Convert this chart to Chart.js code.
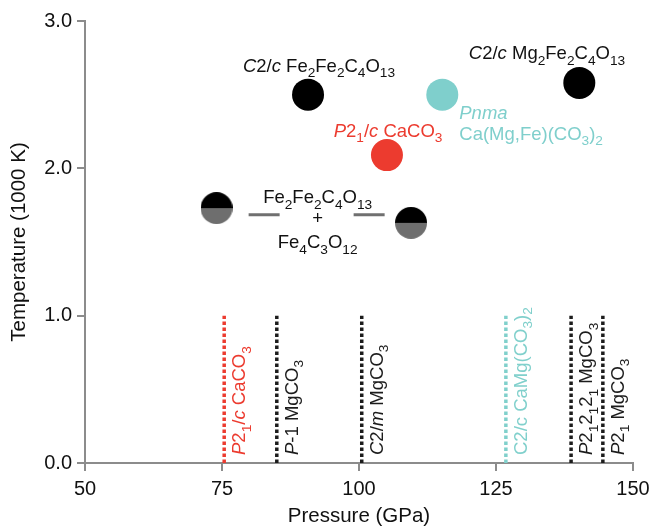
<!DOCTYPE html>
<html>
<head>
<meta charset="utf-8">
<script src="https://cdn.jsdelivr.net/npm/chart.js@4/dist/chart.umd.min.js"></script>
<style>
  html, body { margin: 0; padding: 0; background: #fff; }
</style>
</head>
<body>
<canvas id="chart" width="650" height="529"></canvas>
<script>
// transition pressures (GPa), each drawn as a dashed line from 0 to 1000 K
const transitionP = [75.4, 85.0, 100.5, 126.8, 138.7, 144.5];
const transitionT = [0, 1.0];
const transitionLabels = [
    '<i>P</i>2<sub>1</sub>/<i>c</i> CaCO<sub>3</sub>',
    '<i>P</i>-1 MgCO<sub>3</sub>',
    '<i>C</i>2/<i>m</i> MgCO<sub>3</sub>',
    'C2/c CaMg(CO<sub>3</sub>)<sub>2</sub>',
    '<i>P</i>2<sub>1</sub>2<sub>1</sub>2<sub>1</sub> MgCO<sub>3</sub>',
    '<i>P</i>2<sub>1</sub> MgCO<sub>3</sub>'
];
const transitionColors = ['#ec3b2f', '#1c1c1c', '#1c1c1c', '#80d0cc', '#1c1c1c', '#1c1c1c'];

// stable high-T phases
const phaseP = [90.7, 140.2, 105.1, 115.2];
const phaseT = [2.50, 2.58, 2.09, 2.50];
const phaseColors = ['#000000', '#000000', '#ec3b2f', '#7fcfcc'];

// decomposition points
const decompP = [74.0, 109.5];
const decompT = [1.73, 1.63];

const xTicks = [50, 75, 100, 125, 150];
const yTicks = [0, 1, 2, 3];

const FONT = "'Liberation Sans', Arial, Helvetica, sans-serif";
const AXIS_GREY = '#8c8c8c';
const LABEL_SIZE = 18.5;

// text annotations placed in data units
const notes = [
    { x: 92.7, y: 2.70, text: '<i>C</i>2/<i>c</i> Fe<sub>2</sub>Fe<sub>2</sub>C<sub>4</sub>O<sub>13</sub>', color: '#111', align: 'center' },
    { x: 134.3, y: 2.785, text: '<i>C</i>2/<i>c</i> Mg<sub>2</sub>Fe<sub>2</sub>C<sub>4</sub>O<sub>13</sub>', color: '#111', align: 'center' },
    { x: 105.3, y: 2.26, text: '<i>P</i>2<sub>1</sub>/<i>c</i> CaCO<sub>3</sub>', color: '#ec3b2f', align: 'center' },
    { x: 118.3, y: 2.38, text: '<i>Pnma</i>', color: '#7fcfcc', align: 'left' },
    { x: 118.3, y: 2.24, text: 'Ca(Mg,Fe)(CO<sub>3</sub>)<sub>2</sub>', color: '#7fcfcc', align: 'left' },
    { x: 92.45, y: 1.808, text: 'Fe<sub>2</sub>Fe<sub>2</sub>C<sub>4</sub>O<sub>13</sub>', color: '#111', align: 'center' },
    { x: 92.45, y: 1.665, text: '+', color: '#111', align: 'center', link: true },
    { x: 92.45, y: 1.502, text: 'Fe<sub>4</sub>C<sub>3</sub>O<sub>12</sub>', color: '#111', align: 'center' }
];

function parseRich(s) {
    const runs = [];
    const re = /<(i|sub)>(.*?)<\/\1>|([^<]+)/g;
    let m;
    while ((m = re.exec(s))) {
        if (m[3]) runs.push({ t: m[3] });
        else runs.push({ t: m[2], i: m[1] === 'i', sub: m[1] === 'sub' });
    }
    return runs;
}

function runFont(r, size) {
    const sz = r.sub ? size * 0.74 : size;
    return (r.i ? 'italic ' : '') + sz + 'px ' + FONT;
}

// draws a line of text with italics and subscripts, y is the baseline
function drawRich(ctx, s, x, y, size, color, align) {
    const runs = parseRich(s);
    let w = 0;
    runs.forEach(r => {
        ctx.font = runFont(r, size);
        r.w = ctx.measureText(r.t).width;
        w += r.w;
    });
    let cx = align === 'center' ? x - w / 2 : (align === 'right' ? x - w : x);
    ctx.fillStyle = color;
    ctx.textAlign = 'left';
    ctx.textBaseline = 'alphabetic';
    runs.forEach(r => {
        ctx.font = runFont(r, size);
        ctx.fillText(r.t, cx, y + (r.sub ? size * 0.3 : 0));
        cx += r.w;
    });
    return w;
}

function halfDot(r) {
    const c = document.createElement('canvas');
    c.width = c.height = 2 * r;
    const g = c.getContext('2d');
    g.beginPath();
    g.arc(r, r, r, Math.PI, 0);
    g.closePath();
    g.fillStyle = '#000';
    g.fill();
    g.beginPath();
    g.arc(r, r, r, 0, Math.PI);
    g.closePath();
    g.fillStyle = '#6e6e6e';
    g.fill();
    return c;
}

const labelPlugin = {
    id: 'labels',
    afterDatasetsDraw(chart) {
        const { ctx, scales: { x, y } } = chart;
        const size = LABEL_SIZE;
        ctx.save();

        // rotated labels beside the transition lines
        transitionP.forEach((p, i) => {
            ctx.save();
            ctx.translate(x.getPixelForValue(p) + 21, y.getPixelForValue(0) - 8);
            ctx.rotate(-Math.PI / 2);
            drawRich(ctx, transitionLabels[i], 0, 0, size, transitionColors[i], 'left');
            ctx.restore();
        });

        notes.forEach(n => {
            const px = x.getPixelForValue(n.x);
            const py = y.getPixelForValue(n.y);
            drawRich(ctx, n.text, px, py + size * 0.36, size, n.color, n.align);
            if (n.link) {
                ctx.strokeStyle = '#707070';
                ctx.lineWidth = 3;
                ctx.beginPath();
                ctx.moveTo(px - 69, py - 3); ctx.lineTo(px - 38, py - 3);
                ctx.moveTo(px + 36, py - 3); ctx.lineTo(px + 67, py - 3);
                ctx.stroke();
            }
        });
        ctx.restore();
    }
};

const datasets = transitionP.map((p, i) => ({
    type: 'line',
    data: transitionT.map(t => ({ x: p, y: t })),
    borderColor: transitionColors[i],
    borderWidth: 3.5,
    borderDash: [3.5, 2.5],
    pointRadius: 0,
    fill: false
}));

datasets.push({
    type: 'scatter',
    data: phaseP.map((p, i) => ({ x: p, y: phaseT[i] })),
    backgroundColor: phaseColors,
    borderWidth: 0,
    pointRadius: 16
});

datasets.push({
    type: 'scatter',
    data: decompP.map((p, i) => ({ x: p, y: decompT[i] })),
    pointStyle: halfDot(16),
    pointRadius: 16
});

const axisCommon = {
    grid: { display: true, drawOnChartArea: false, drawTicks: true, tickLength: 8, color: AXIS_GREY, lineWidth: 2 },
    border: { display: true, color: AXIS_GREY, width: 2 }
};

new Chart(document.getElementById('chart'), {
    data: { datasets },
    options: {
        responsive: false,
        animation: false,
        layout: { padding: { top: 21, right: 17, bottom: 0, left: 0 } },
        plugins: { legend: { display: false }, tooltip: { enabled: false } },
        scales: {
            x: {
                type: 'linear',
                min: 50,
                max: 150,
                ...axisCommon,
                afterBuildTicks: s => { s.ticks = xTicks.map(v => ({ value: v })); },
                afterFit: s => { s.height = 66; s.paddingLeft = 0; s.paddingRight = 0; },
                ticks: { color: '#111', padding: 6, font: { family: FONT, size: 20 } },
                title: { display: true, text: 'Pressure (GPa)', color: '#111', padding: { top: 0, bottom: 0 }, font: { family: FONT, size: 20.5 } }
            },
            y: {
                type: 'linear',
                min: 0,
                max: 3,
                ...axisCommon,
                afterBuildTicks: s => { s.ticks = yTicks.map(v => ({ value: v })); },
                afterFit: s => { s.width = 85; s.paddingTop = 0; s.paddingBottom = 0; },
                ticks: { color: '#111', padding: 5, font: { family: FONT, size: 20 }, callback: v => v.toFixed(1) },
                title: { display: true, text: 'Temperature (1000 K)', color: '#111', padding: { top: 7, bottom: 0 }, font: { family: FONT, size: 20.5 } }
            }
        }
    },
    plugins: [labelPlugin]
});
</script>
</body>
</html>
